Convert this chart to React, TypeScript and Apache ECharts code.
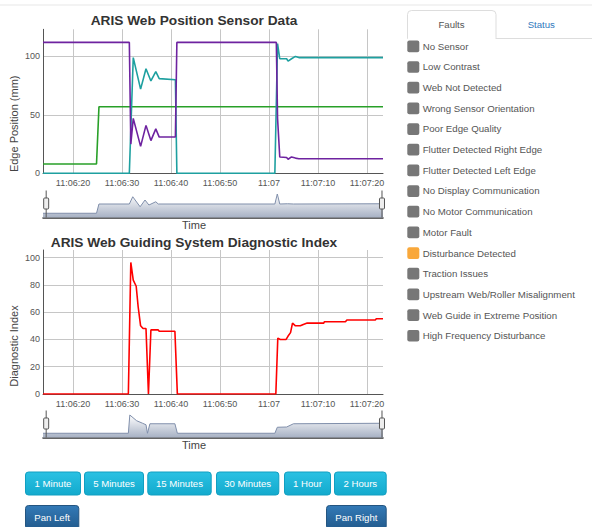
import React, { useEffect, useRef } from 'react';
import * as echarts from 'echarts';

// ---------- data (time in seconds after 11:06:00) ----------
const timeStart = 13.88;
const timeEnd = 83.27;
const xTickSeconds = [20, 30, 40, 50, 60, 70, 80];
const xTickLabels = ['11:06:20', '11:06:30', '11:06:40', '11:06:50', '11:07', '11:07:10', '11:07:20'];
const positionTicks = [0, 50, 100];
const positionMax = 123.2;
const diagnosticTicks = [0, 20, 40, 60, 80, 100];
const diagnosticMax = 105.6;

const purpleEdge: [number, number][] = [
  [13.88, 112], [31.5, 112], [31.8, 25], [32.3, 47], [33.8, 23], [34.9, 41], [35.9, 28], [36.9, 38],
  [37.6, 31], [40.9, 31], [41.2, 112], [61.5, 112], [61.75, 47], [62.2, 14], [63.6, 13.5], [63.9, 12],
  [64.6, 14], [65.4, 13], [66.1, 12.5], [83.27, 12.5],
];
const tealEdge: [number, number][] = [
  [13.88, 0], [31.5, 0], [32.3, 99], [33.8, 72], [34.9, 89.5], [35.9, 79], [36.9, 87], [37.6, 81],
  [40.9, 80], [41.2, 0], [61.2, 0], [61.75, 111], [62.2, 98], [63.6, 98], [63.9, 96], [64.6, 98],
  [65.4, 100], [66.1, 99], [83.27, 99],
];
const greenEdge: [number, number][] = [
  [13.88, 8], [24.8, 8], [25.3, 57], [83.27, 57],
];
const diagnosticIndex: [number, number][] = [
  [13.88, 0], [31.3, 0], [31.8, 96.5], [32.3, 83.5], [32.9, 79], [33.3, 64], [33.8, 50], [34.3, 48],
  [34.9, 48], [35.4, 0], [35.9, 47], [37.4, 47], [37.6, 46], [40.8, 46], [41.3, 0], [61.4, 0],
  [61.8, 41], [62.3, 40], [63.5, 40], [63.9, 42.5], [64.4, 45], [64.8, 52], [65.4, 50], [66.4, 50],
  [67, 51], [67.8, 52], [71.2, 52], [71.3, 53], [75.6, 53], [75.9, 54.3], [81.7, 54.3], [81.9, 55.2],
  [83.27, 55.2],
];
// range-selector overview shapes (percent of selector height)
const positionOverview: [number, number][] = [
  [13.88, 17], [24.8, 17], [25.3, 54], [31.5, 54], [32.2, 83], [33.7, 43], [34.7, 70], [35.5, 50],
  [36.9, 63], [37.4, 54], [61.2, 54], [61.7, 94], [62.2, 54], [63.8, 55], [65, 54], [83.27, 55],
];
const diagnosticOverview: [number, number][] = [
  [13.88, 17], [31.3, 17], [31.6, 90], [33.0, 67], [34.2, 57], [34.9, 51], [35.2, 17], [35.7, 55],
  [40.8, 55], [41.3, 17], [61.2, 17], [61.7, 41], [63.6, 42], [65, 55], [83.27, 57],
];

const faultNames = [
  'No Sensor', 'Low Contrast', 'Web Not Detected', 'Wrong Sensor Orientation', 'Poor Edge Quality',
  'Flutter Detected Right Edge', 'Flutter Detected Left Edge', 'No Display Communication',
  'No Motor Communication', 'Motor Fault', 'Disturbance Detected', 'Traction Issues',
  'Upstream Web/Roller Misalignment', 'Web Guide in Extreme Position', 'High Frequency Disturbance',
];
const faultActive = [false, false, false, false, false, false, false, false, false, false, true, false, false, false, false];
const rangeButtons = ['1 Minute', '5 Minutes', '15 Minutes', '30 Minutes', '1 Hour', '2 Hours'];
const panButtons = ['Pan Left', 'Pan Right'];
const tabNames = ['Faults', 'Status'];

// ---------- layout / style ----------
const FONT = '"Liberation Sans", Arial, Helvetica, sans-serif';
const rangeButtonBoxes = [[25, 56], [84, 60], [147.3, 64.4], [216, 63.3], [284, 47], [334, 52.7]];
const panButtonBoxes = [[25, 54.3], [326, 60.7]];
const COLORS = { purple: '#6e23a0', teal: '#1ea0a0', green: '#28a028', red: '#ff0000' };
const HANDLE = 'path://M2.5,0V8.5M2.5,19.5V27M1,8.5H4A1,1,0,0,1,5,9.5V18.5A1,1,0,0,1,4,19.5H1A1,1,0,0,1,0,18.5V9.5A1,1,0,0,1,1,8.5Z';

function tickLabel(v: number): string {
  for (let i = 0; i < xTickSeconds.length; i++) {
    if (Math.abs(xTickSeconds[i] - v) < 0.01) return xTickLabels[i];
  }
  return '';
}

function buildGraphics(): any[] {
  const g: any[] = [];
  g.push({ type: 'rect', silent: true, shape: { x: 0, y: 4, width: 592, height: 2 }, style: { fill: '#f3f3f3' } });
  g.push({ type: 'text', x: 194, y: 20.5, style: { text: 'ARIS Web Position Sensor Data', fontFamily: FONT, fontSize: 13.7, fontWeight: 'bold', fill: '#333', align: 'center', verticalAlign: 'middle' } });
  g.push({ type: 'text', x: 194, y: 242.5, style: { text: 'ARIS Web Guiding System Diagnostic Index', fontFamily: FONT, fontSize: 13.7, fontWeight: 'bold', fill: '#333', align: 'center', verticalAlign: 'middle' } });

  // tabs
  g.push({ type: 'rect', shape: { x: 407.5, y: 10.5, width: 88.5, height: 28, r: [4, 4, 0, 0] }, style: { fill: '#fff', stroke: '#dddddd', lineWidth: 1 } });
  g.push({ type: 'line', shape: { x1: 408, y1: 38.5, x2: 495.5, y2: 38.5 }, style: { stroke: '#fff', lineWidth: 1.5 } });
  g.push({ type: 'line', shape: { x1: 496, y1: 38.5, x2: 592, y2: 38.5 }, style: { stroke: '#dddddd', lineWidth: 1 } });
  g.push({ type: 'text', x: 451.5, y: 24.5, style: { text: tabNames[0], fontFamily: FONT, fontSize: 9.6, fill: '#555', align: 'center', verticalAlign: 'middle' } });
  g.push({ type: 'text', x: 541.3, y: 24.5, style: { text: tabNames[1], fontFamily: FONT, fontSize: 9.6, fill: '#2f78bd', align: 'center', verticalAlign: 'middle' } });

  // fault list
  faultNames.forEach((name, i) => {
    const cy = 46.3 + i * 20.67;
    g.push({ type: 'rect', shape: { x: 407.3, y: cy - 5.8, width: 12, height: 11.7, r: 2 }, style: { fill: faultActive[i] ? '#f9a83b' : '#777777' } });
    g.push({ type: 'text', x: 422.7, y: cy, style: { text: name, fontFamily: FONT, fontSize: 9.7, fill: '#555', align: 'left', verticalAlign: 'middle' } });
  });

  // range buttons
  rangeButtons.forEach((label, i) => {
    const [x, w] = rangeButtonBoxes[i];
    g.push({
      type: 'rect', shape: { x: x + 0.5, y: 472, width: w - 1, height: 23, r: 3 },
      style: {
        fill: new echarts.graphic.LinearGradient(0, 0, 0, 1, [{ offset: 0, color: '#2ac1e3' }, { offset: 1, color: '#13aacd' }]),
        stroke: '#119fc1', lineWidth: 1,
      },
    });
    g.push({ type: 'text', x: x + w / 2, y: 483.6, style: { text: label, fontFamily: FONT, fontSize: 9.6, fill: '#fff', align: 'center', verticalAlign: 'middle' } });
  });
  panButtons.forEach((label, i) => {
    const [x, w] = panButtonBoxes[i];
    g.push({
      type: 'rect', shape: { x: x + 0.5, y: 505.5, width: w - 1, height: 24, r: 3 },
      style: {
        fill: new echarts.graphic.LinearGradient(0, 0, 0, 1, [{ offset: 0, color: '#337ab7' }, { offset: 1, color: '#225a8c' }]),
        stroke: '#245580', lineWidth: 1,
      },
    });
    g.push({ type: 'text', x: x + w / 2, y: 517, style: { text: label, fontFamily: FONT, fontSize: 9.6, fill: '#fff', align: 'center', verticalAlign: 'middle' } });
  });
  return g;
}

function mainXAxis(gridIndex: number, nameGap: number) {
  return {
    type: 'value', gridIndex, min: timeStart, max: timeEnd,
    name: 'Time', nameLocation: 'middle', nameGap, nameMoveOverlap: false,
    nameTextStyle: { fontFamily: FONT, fontSize: 11, color: '#444', padding: [0, 38, 0, 0] },
    axisLine: { show: true, onZero: false, lineStyle: { color: '#555', width: 1 } },
    axisTick: { show: false, customValues: xTickSeconds },
    axisLabel: { customValues: xTickSeconds, formatter: (v: number) => tickLabel(v), fontFamily: FONT, fontSize: 9, color: '#555', margin: 5 },
    splitLine: { show: true, lineStyle: { color: '#c6c6c6', width: 1 } },
  };
}

function mainYAxis(gridIndex: number, max: number, ticks: number[], name: string, pad: number) {
  return {
    type: 'value', gridIndex, min: 0, max,
    name, nameLocation: 'middle', nameGap: 24, nameMoveOverlap: false,
    nameTextStyle: { fontFamily: FONT, fontSize: 11, color: '#444', padding: [0, pad, 0, 0] },
    axisLine: { show: true, lineStyle: { color: '#555', width: 1 } },
    axisTick: { show: false, customValues: ticks },
    axisLabel: { customValues: ticks, fontFamily: FONT, fontSize: 9, color: '#555', margin: 3 },
    splitLine: { show: true, lineStyle: { color: '#c6c6c6', width: 1 } },
  };
}

function miniXAxis(gridIndex: number) {
  return {
    type: 'value', gridIndex, min: timeStart, max: timeEnd,
    axisLine: { show: true, onZero: false, lineStyle: { color: '#333', width: 1.5 } },
    axisTick: { show: false }, axisLabel: { show: false }, splitLine: { show: false },
  };
}

function slider(xAxisIndex: number, top: number) {
  return {
    type: 'slider', xAxisIndex, filterMode: 'none', start: 0, end: 100,
    left: 44.5, width: 337.8, top, height: 27,
    showDataShadow: false, showDetail: false, brushSelect: false, zoomLock: true,
    borderColor: 'rgba(0,0,0,0)', backgroundColor: 'rgba(0,0,0,0)', fillerColor: 'rgba(0,0,0,0)',
    handleIcon: HANDLE, handleSize: '100%',
    handleStyle: { color: '#eeeeee', borderColor: '#555555', borderWidth: 1 },
  };
}

function lineSeries(name: string, data: [number, number][], color: string, axis: number) {
  return {
    type: 'line', name, data, xAxisIndex: axis, yAxisIndex: axis, showSymbol: false, silent: true,
    lineStyle: { color, width: 1.6 }, itemStyle: { color },
  };
}

function overviewSeries(data: [number, number][], axis: number) {
  return {
    type: 'line', data, xAxisIndex: axis, yAxisIndex: axis, showSymbol: false, silent: true,
    lineStyle: { color: '#808fab', width: 1 },
    areaStyle: {
      opacity: 1,
      color: new echarts.graphic.LinearGradient(0, 0, 0, 1, [{ offset: 0, color: '#ffffff' }, { offset: 1, color: '#a7b1c4' }]),
    },
  };
}

function gridBox(top: number, height: number) {
  return { left: 43, top, width: 340, height, containLabel: false, outerBoundsMode: 'none' };
}

export default function App() {
  const ref = useRef<HTMLDivElement>(null);
  useEffect(() => {
    if (!ref.current) return;
    const chart = echarts.init(ref.current, undefined, { renderer: 'svg' });
    const option: any = {
      animation: false,
      textStyle: { fontFamily: FONT },
      graphic: buildGraphics(),
      grid: [gridBox(29.3, 144), gridBox(250, 144), gridBox(192.5, 25), gridBox(412.5, 25)],
      xAxis: [mainXAxis(0, 46), mainXAxis(1, 45.5), miniXAxis(2), miniXAxis(3)],
      yAxis: [
        mainYAxis(0, positionMax, positionTicks, 'Edge Position (mm)', 45),
        mainYAxis(1, diagnosticMax, diagnosticTicks, 'Diagnostic Index', 48),
        { type: 'value', gridIndex: 2, min: 0, max: 100, show: false },
        { type: 'value', gridIndex: 3, min: 0, max: 100, show: false },
      ],
      dataZoom: [slider(0, 190.5), slider(1, 410.5)],
      series: [
        lineSeries('Edge C', greenEdge, COLORS.green, 0),
        lineSeries('Edge B', tealEdge, COLORS.teal, 0),
        lineSeries('Edge A', purpleEdge, COLORS.purple, 0),
        lineSeries('Diagnostic Index', diagnosticIndex, COLORS.red, 1),
        overviewSeries(positionOverview, 2),
        overviewSeries(diagnosticOverview, 3),
      ],
    };
    chart.setOption(option);
    return () => chart.dispose();
  }, []);
  return <div ref={ref} style={{ position: 'absolute', left: 0, top: 0, width: 592, height: 527 }} />;
}
